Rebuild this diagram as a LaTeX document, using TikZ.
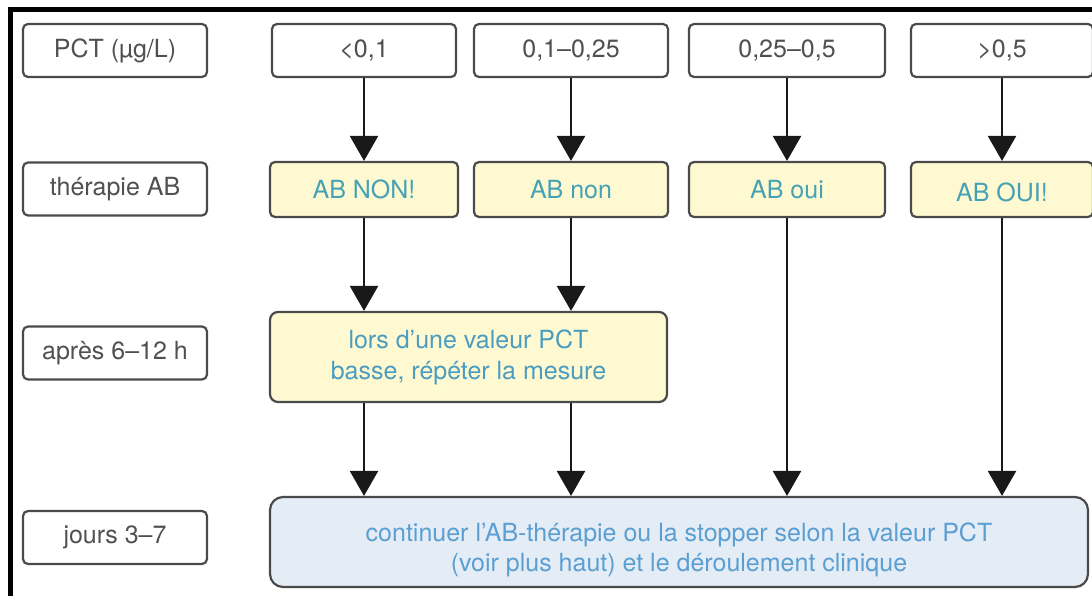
\documentclass[tikz,border=0pt]{standalone}
\usepackage{fontspec}
\setmainfont{TeX Gyre Heros}
\usetikzlibrary{arrows.meta}
\definecolor{txtgray}{HTML}{505050}
\definecolor{boxline}{HTML}{4A4A4A}
\definecolor{yfill}{HTML}{FFF9D2}
\definecolor{bfill}{HTML}{E4ECF6}
\definecolor{tealtxt}{HTML}{45A2B4}
\definecolor{lorstxt}{HTML}{4A9DC0}
\definecolor{bluetxt}{HTML}{5B9FD2}
\tikzset{
  base/.style={draw=boxline, line width=2.2pt, rounded corners=5pt, inner sep=0pt,
    font=\fontsize{25}{31}\selectfont, align=center},
  lbl/.style={base, text=txtgray, minimum width=184pt, minimum height=53pt},
  valbox/.style={base, text=txtgray, minimum height=53pt},
  abbox/.style={base, fill=yfill, text=tealtxt, minimum height=55pt},
  lorsbox/.style={base, fill=yfill, text=lorstxt, rounded corners=8pt},
  endbox/.style={base, fill=bfill, text=bluetxt, rounded corners=13pt},
  arr/.style={draw=black!90, line width=2.4pt, -{Triangle[width=28pt,length=25pt]}}
}
\begin{document}
\begin{tikzpicture}[x=1pt, y=-1pt]
\useasboundingbox (0,0) rectangle (1092,596);
\fill[white] (0,0) rectangle (1092,596);
% frame (top and left edges)
\draw[line width=4.5pt, black] (10.5,598) -- (10.5,9.5) -- (1094,9.5);

% left labels
\node[lbl] (l1) at (115,50.5) {PCT (µg/L)};
\node[lbl] (l2) at (115,189) {thérapie AB};
\node[lbl] (l3) at (115,353) {après 6–12 h};
\node[lbl] (l4) at (115,537.5) {jours 3–7};

% row 1
\node[valbox, minimum width=184pt] (c1) at (364,50.5) {<0,1};
\node[valbox, minimum width=194pt] (c2) at (571,50.5) {0,1–0,25};
\node[valbox, minimum width=196pt] (c3) at (787,50.5) {0,25–0,5};
\node[valbox, minimum width=182pt] (c4) at (1002,50.5) {>0,5};

% row 2
\node[abbox, minimum width=188pt] (a1) at (364,189.5) {AB NON!};
\node[abbox, minimum width=194pt] (a2) at (571,189.5) {AB non};
\node[abbox, minimum width=196pt] (a3) at (787,189.5) {AB oui};
\node[abbox, minimum width=182pt] (a4) at (1002,189.5) {\raisebox{-3pt}[\height][\depth]{AB OUI!}};

% row 3
\node[lorsbox, minimum width=397pt, minimum height=90pt] (lors) at (468.5,357)
  {lors d’une valeur PCT\\basse, répéter la mesure};

% row 4
\node[endbox, minimum width=818pt, minimum height=90pt] (fin) at (679,542)
  {\raisebox{-8pt}[\height][\depth]{\begin{tabular}{@{}c@{}}continuer l’AB-thérapie ou la stopper selon la valeur PCT\\[-1pt](voir plus haut) et le déroulement clinique\end{tabular}}};

% arrows row1 -> row2
\draw[arr] (c1.south) -- (a1.north);
\draw[arr] (c2.south) -- (a2.north);
\draw[arr] (c3.south) -- (a3.north);
\draw[arr] (c4.south) -- (a4.north);

% row2 -> lors
\draw[arr] (a1.south) -- (a1.south |- lors.north);
\draw[arr] (a2.south) -- (a2.south |- lors.north);

% lors -> fin
\draw[arr] (a1.south |- lors.south) -- (a1.south |- fin.north);
\draw[arr] (a2.south |- lors.south) -- (a2.south |- fin.north);

% row2 -> fin
\draw[arr] (a3.south) -- (a3.south |- fin.north);
\draw[arr] (a4.south) -- (a4.south |- fin.north);
\end{tikzpicture}
\end{document}
